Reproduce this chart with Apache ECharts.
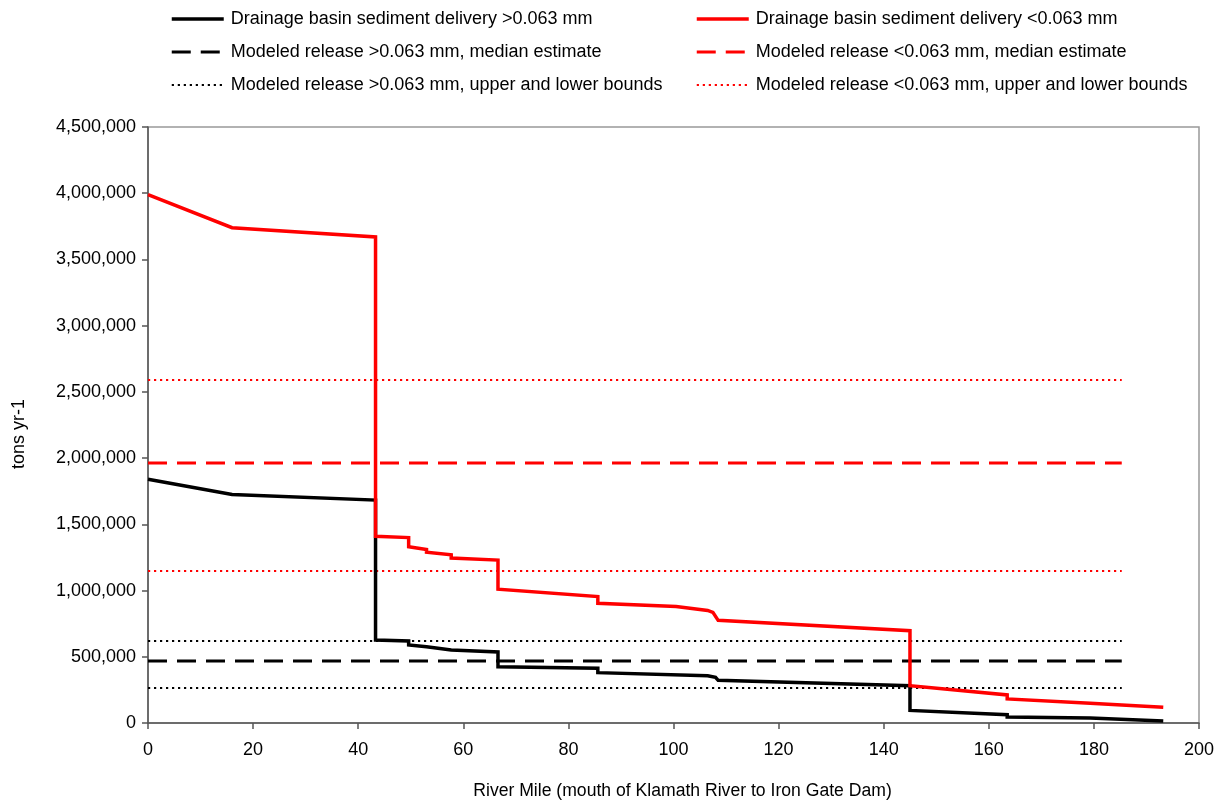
<!DOCTYPE html>
<html>
<head>
<meta charset="utf-8">
<script src="https://cdn.jsdelivr.net/npm/echarts@6/dist/echarts.min.js"></script>
<style>
html,body{margin:0;padding:0;background:#fff;}
#chart{width:1215px;height:801px;}
</style>
</head>
<body>
<div id="chart"></div>
<script>
// ---- data ----
const xTicks = [0, 20, 40, 60, 80, 100, 120, 140, 160, 180, 200];
const yTicks = [0, 500000, 1000000, 1500000, 2000000, 2500000, 3000000, 3500000, 4000000, 4500000];

const coarseMile = [0, 16, 43.3, 43.3, 49.6, 49.6, 53, 53, 57.7, 57.7, 66.6, 66.6, 85.6, 85.6, 106.5, 108, 108.5, 145, 145, 163.5, 163.5, 179.3, 179.3, 193.2];
const coarseTons = [1840000, 1725000, 1683000, 627000, 619000, 589000, 576000, 561000, 551000, 539000, 536000, 425000, 413000, 380000, 357000, 345000, 322000, 282000, 95000, 62000, 45000, 38000, 30000, 15000];

const fineMile = [0, 16, 43.3, 43.3, 49.6, 49.6, 53, 53, 57.7, 57.7, 66.6, 66.6, 85.6, 85.6, 100.5, 106.5, 107.5, 108.5, 145, 145, 163.5, 163.5, 179.3, 179.3, 185.3, 185.3, 193.2];
const fineTons = [3990000, 3740000, 3670000, 1410000, 1400000, 1330000, 1310000, 1290000, 1270000, 1245000, 1230000, 1010000, 955000, 904000, 880000, 850000, 835000, 775000, 697000, 282000, 212000, 182000, 150000, 138000, 136000, 124000, 118000];

const modelMileStart = 0;
const modelMileEnd = 185.3;
const coarseMedian = 468000;
const coarseUpper = 619000;
const coarseLower = 264000;
const fineMedian = 1964000;
const fineUpper = 2590000;
const fineLower = 1148000;

const names = {
  coarse: 'Drainage basin sediment delivery >0.063 mm',
  fine: 'Drainage basin sediment delivery <0.063 mm',
  coarseMed: 'Modeled release >0.063 mm, median estimate',
  fineMed: 'Modeled release <0.063 mm, median estimate',
  coarseBnd: 'Modeled release >0.063 mm, upper and lower bounds',
  fineBnd: 'Modeled release <0.063 mm, upper and lower bounds'
};

// ---- build ----
const pairs = (xs, ys) => xs.map((x, i) => [x, ys[i]]);
const hline = v => [[modelMileStart, v], [modelMileEnd, v]];
const FONT = 'Liberation Sans, Arial, Helvetica, sans-serif';

function lineSeries(name, data, color, width, type, z) {
  return {
    name, type: 'line', data, symbol: 'none', showSymbol: false,
    lineStyle: { color, width, type, cap: 'butt', join: 'miter' },
    itemStyle: { color },
    emphasis: { disabled: true }, silent: true, animation: false, z: z || 2
  };
}

const RED = '#ff0000';
const BLK = '#000000';
const dash = [19, 10];
const dot = [2.2, 3.8];

const legendBase = {
  orient: 'vertical', top: 10, padding: 0, itemWidth: 52, itemHeight: 18, itemGap: 15,
  itemStyle: { opacity: 0, borderWidth: 0 },
  lineStyle: { width: 'inherit', type: 'inherit' },
  textStyle: { fontFamily: FONT, fontSize: 18, color: '#000', lineHeight: 18, padding: [0, 0, 0, 2] },
  selectedMode: false
};

const chart = echarts.init(document.getElementById('chart'), null, { renderer: 'canvas' });
chart.setOption({
  backgroundColor: '#ffffff',
  animation: false,
  textStyle: { fontFamily: FONT },
  grid: {
    left: 148, right: 16, top: 127, bottom: 78, containLabel: false, outerBoundsMode: 'none',
    show: true, borderColor: '#999999', borderWidth: 1.5, backgroundColor: 'transparent'
  },
  legend: [
    Object.assign({}, legendBase, { left: 170, data: [names.coarse, names.coarseMed, names.coarseBnd] }),
    Object.assign({}, legendBase, { left: 695, data: [names.fine, names.fineMed, names.fineBnd] })
  ],
  xAxis: {
    type: 'value', min: xTicks[0], max: xTicks[xTicks.length - 1], interval: 20,
    name: 'River Mile (mouth of Klamath River to Iron Gate Dam)',
    nameLocation: 'middle', nameGap: 59,
    nameTextStyle: { fontFamily: FONT, fontSize: 17.6, color: '#000', padding: [0, 0, 0, 18] },
    axisLine: { show: true, onZero: false, lineStyle: { color: '#555', width: 1.5 } },
    axisTick: { show: true, length: 6, inside: false, lineStyle: { color: '#555', width: 1.5 } },
    axisLabel: { fontFamily: FONT, fontSize: 18, color: '#000', margin: 18 },
    splitLine: { show: false }
  },
  yAxis: {
    type: 'value', min: yTicks[0], max: yTicks[yTicks.length - 1], interval: 500000,
    name: 'tons yr-1', nameLocation: 'middle', nameGap: 120, nameRotate: 90,
    nameTextStyle: { fontFamily: FONT, fontSize: 18, color: '#000', padding: [0, 18, 0, 0] },
    axisLine: { show: true, lineStyle: { color: '#555', width: 1.5 } },
    axisTick: { show: true, length: 6, inside: false, lineStyle: { color: '#555', width: 1.5 } },
    axisLabel: {
      fontFamily: FONT, fontSize: 18, color: '#000', margin: 12,
      formatter: v => v.toLocaleString('en-US')
    },
    splitLine: { show: false }
  },
  series: [
    lineSeries(names.coarse, pairs(coarseMile, coarseTons), BLK, 3.5, 'solid', 5),
    lineSeries(names.fine, pairs(fineMile, fineTons), RED, 3.5, 'solid', 6),
    lineSeries(names.coarseMed, hline(coarseMedian), BLK, 3, dash, 3),
    lineSeries(names.fineMed, hline(fineMedian), RED, 3, dash, 3),
    lineSeries(names.coarseBnd, hline(coarseUpper), BLK, 2, dot, 3),
    lineSeries(names.coarseBnd, hline(coarseLower), BLK, 2, dot, 3),
    lineSeries(names.fineBnd, hline(fineUpper), RED, 2, dot, 3),
    lineSeries(names.fineBnd, hline(fineLower), RED, 2, dot, 3)
  ]
});
</script>
</body>
</html>
